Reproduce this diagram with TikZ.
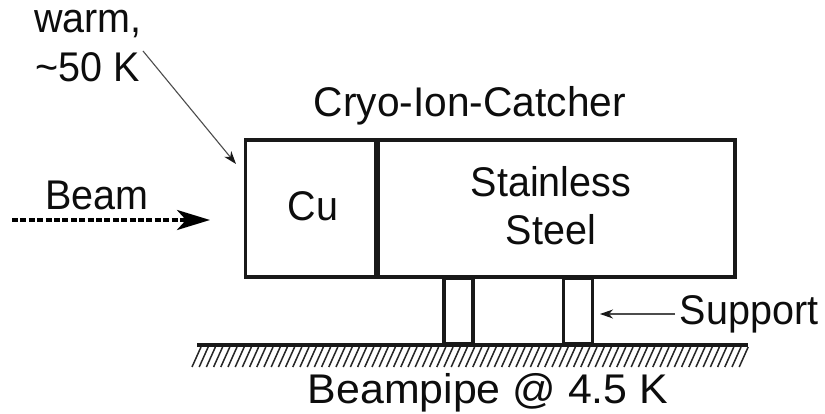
\documentclass[tikz,border=0pt]{standalone}
\usepackage{fontspec}
\setmainfont{Liberation Sans}
\usetikzlibrary{arrows.meta}
\tikzset{
  lbl/.style={anchor=base,inner sep=0pt,outer sep=0pt,text=black!95,font=\fontsize{39.5}{44}\selectfont,yscale=1.05},
  wall/.style={draw=black!90,line width=3.6pt,inner sep=0pt,outer sep=0pt},
  thinarrow/.style={draw=black!70,line width=1.1pt,-{Stealth[length=13pt,width=9pt,inset=4pt,color=black!90]}},
  beamarrow/.style={draw=black,line width=3.8pt,dash pattern=on 6pt off 2.4pt,-{Stealth[length=33pt,width=20pt,inset=9pt]}},
  hatch/.style={draw=black!85,line width=1.5pt}
}
\begin{document}
\begin{tikzpicture}[x=1pt,y=-1pt]
\useasboundingbox (0,0) rectangle (825,414);
\fill[white] (0,0) rectangle (825,414);
% hatching
\foreach \i in {0,...,76} {
  \draw[hatch] ({192+\i*7.2},367) -- ({201+\i*7.2},347);
}
% supports
\node[wall,minimum width=29pt,minimum height=66pt] (s1) at (458.5,311) {};
\node[wall,minimum width=29pt,minimum height=66pt] (s2) at (578,311) {};
% body
\node[wall,minimum width=131pt,minimum height=137pt] (cu) at (311,208.5) {};
\node[wall,minimum width=358pt,minimum height=137pt] (ss) at (556,208.5) {};
\draw[draw=black!90,line width=5.5pt] (ss.north west) -- (ss.south west);
% ground
\coordinate (g1) at (197,345);
\coordinate (g2) at (748,345);
\draw[draw=black!90,line width=4.6pt] (g1) -- (g2);
% labels
\node[lbl] (warm) at (88,33) {warm,};
\node[lbl] (fifty) at (88,82) {\textasciitilde50 K};
\node[lbl,xscale=1.03] (cryo) at (470,117) {Cryo-Ion-Catcher};
\node[lbl] (beam) at (97,210) {Beam};
\node[lbl] (culbl) at (313,221) {Cu};
\node[lbl] (st1) at (551,197) {Stainless};
\node[lbl] (st2) at (551,245) {Steel};
\node[lbl] (sup) at (749,324) {Support};
\node[lbl,xscale=1.085] (pipe) at (488,403) {Beampipe @ 4.5 K};
% arrows
\coordinate (wa) at (143,51);
\coordinate (wb) at (236,164);
\draw[thinarrow] (wa) -- (wb);
\coordinate (ba) at (12,220);
\coordinate (bb) at (210,220);
\draw[beamarrow] (ba) -- (bb);
\coordinate (sa) at (675,314);
\coordinate (sb) at (600,314);
\draw[thinarrow] (sa) -- (sb);
\end{tikzpicture}
\end{document}
